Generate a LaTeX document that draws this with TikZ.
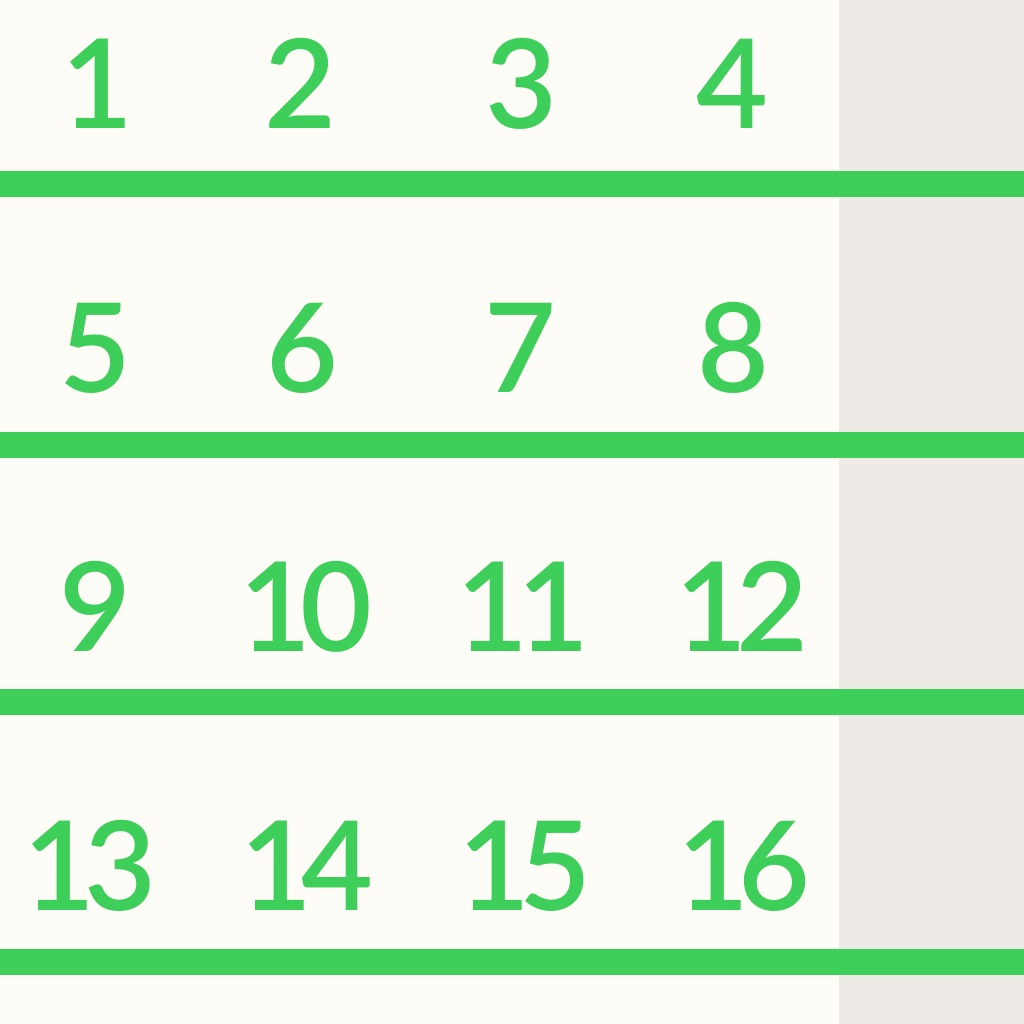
\documentclass[tikz,border=0pt]{standalone}
\usepackage{fontspec}
\newfontfamily\numfont{Lato Semibold}
\definecolor{cream}{HTML}{FDFCF6}
\definecolor{greyside}{HTML}{EEEBE6}
\definecolor{grn}{HTML}{3ECE5A}
\begin{document}
\begin{tikzpicture}[x=1pt,y=-1pt,
  num/.style={anchor=base,inner sep=0pt,text=grn,font=\numfont\fontsize{124}{124}\selectfont\addfontfeature{LetterSpace=-9}},
  bar/.style={fill=grn}]
\useasboundingbox (0,0) rectangle (1024,1024);
\fill[cream] (0,0) rectangle (839,1024);
\fill[greyside] (839,0) rectangle (1024,1024);
\foreach \y in {171,432,689,949} \fill[grn] (0,\y) rectangle (1024,\y+26);
\node[num] (n1) at (97,129) {1};
\node[num] (n2) at (300,129) {2};
\node[num] (n3) at (521,129) {3};
\node[num] (n4) at (732,129) {4};
\node[num] (n5) at (95,392) {5};
\node[num] (n6) at (302,392) {6};
\node[num] (n7) at (520,392) {7};
\node[num] (n8) at (733,392) {8};
\node[num] (n9) at (95,651) {9};
\node[num] (n10) at (306,651) {10};
\node[num] (n11) at (523,651) {11};
\node[num] (n12) at (742,651) {12};
\node[num] (n13) at (90,910) {13};
\node[num] (n14) at (307,910) {14};
\node[num] (n15) at (525,910) {15};
\node[num] (n16) at (744,910) {16};
\end{tikzpicture}
\end{document}
